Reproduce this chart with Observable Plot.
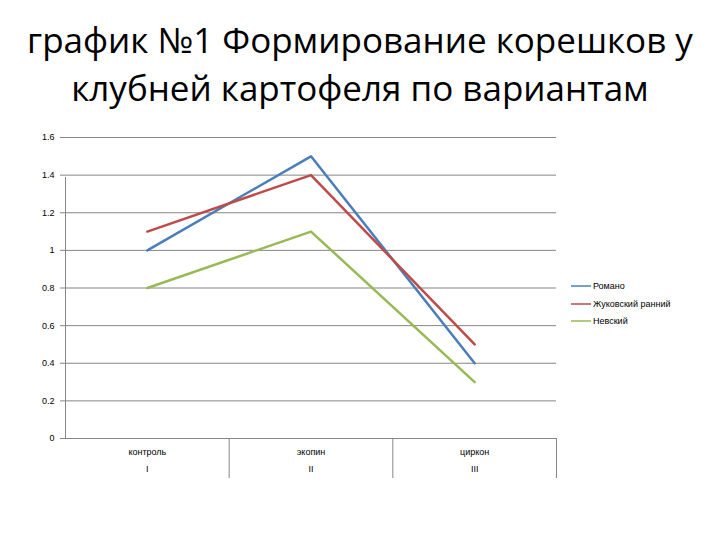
<!DOCTYPE html>
<html>
<head>
<meta charset="utf-8">
<script src="https://cdn.jsdelivr.net/npm/d3@7"></script>
<script src="https://cdn.jsdelivr.net/npm/@observablehq/plot@0.6"></script>
<style>
  html, body { margin: 0; padding: 0; background: #fff; }
  #wrap { position: relative; width: 720px; height: 540px; }
  #title { position: absolute; left: 0; top: 0; width: 720px; text-align: center;
           font-family: "Open Sans", sans-serif; font-size: 35px; line-height: 48px; color: #000; padding-top: 16px; }
  #chart { position: absolute; left: 0; top: 125px; }
  #legend { position: absolute; left: 571px; top: 277px; font-family: "Liberation Sans", sans-serif; font-size: 9px; }
  .li { display: flex; align-items: center; height: 17.8px; }
  .li svg { margin-right: 2px; }
</style>
</head>
<body>
<div id="wrap">
  <div id="title">график №1 Формирование корешков у<br>клубней картофеля по вариантам</div>
  <div id="chart"></div>
  <div id="legend"></div>
</div>
<script>
const categories = ["контроль", "экопин", "циркон"];
const romanNumerals = ["I", "II", "III"];
const seriesNames = ["Романо", "Жуковский ранний", "Невский"];
const seriesColors = ["#4A7EBB", "#BE4B48", "#98B954"];
const romano = [1.0, 1.5, 0.4];
const zhukovsky = [1.1, 1.4, 0.5];
const nevsky = [0.8, 1.1, 0.3];
const yTicks = [0, 0.2, 0.4, 0.6, 0.8, 1.0, 1.2, 1.4, 1.6];

const seriesValues = [romano, zhukovsky, nevsky];
const rows = [];
seriesValues.forEach((vals, s) => vals.forEach((v, i) => rows.push({series: seriesNames[s], i: i + 0.5, value: v})));
const catRows = categories.map((c, i) => ({i: i + 0.5, cat: c, roman: romanNumerals[i]}));
const bounds = d3.range(categories.length + 1);

const grey = "#868686";
const plot = Plot.plot({
  width: 720,
  height: 415,
  marginLeft: 65,
  marginRight: 164,
  marginTop: 12,
  marginBottom: 102,
  style: {fontFamily: "Liberation Sans, sans-serif", fontSize: "9px", background: "transparent"},
  x: {type: "linear", domain: [0, categories.length], axis: null},
  y: {domain: [0, 1.6], ticks: yTicks, axis: null},
  color: {domain: seriesNames, range: seriesColors},
  marks: [
    Plot.gridY(yTicks, {stroke: grey, strokeOpacity: 1, strokeWidth: 1}),
    Plot.axisY(yTicks, {tickSize: 5, stroke: grey, tickFormat: d => String(d), fill: "#000", tickPadding: 6, fontSize: 9, label: null}),
    Plot.ruleX([0], {y1: 0, y2: 1.6, stroke: grey, strokeWidth: 1, insetBottom: -40}),
    Plot.ruleX(bounds.slice(1), {y1: 0, y2: 0, stroke: grey, strokeWidth: 1, insetBottom: -40}),
    Plot.text(catRows, {x: "i", y: 0, text: "cat", dy: 14, fill: "#000"}),
    Plot.text(catRows, {x: "i", y: 0, text: "roman", dy: 31, fill: "#000"}),
    Plot.line(rows, {x: "i", y: "value", z: "series", stroke: "series", strokeWidth: 2.5})
  ]
});
document.getElementById("chart").appendChild(plot);

const leg = document.getElementById("legend");
seriesNames.forEach((n, k) => {
  const d = document.createElement("div");
  d.className = "li";
  d.innerHTML = `<svg width="20" height="4"><line x1="0" x2="20" y1="2" y2="2" stroke="${seriesColors[k]}" stroke-width="1.5"/></svg><span>${n}</span>`;
  leg.appendChild(d);
});
</script>
</body>
</html>
